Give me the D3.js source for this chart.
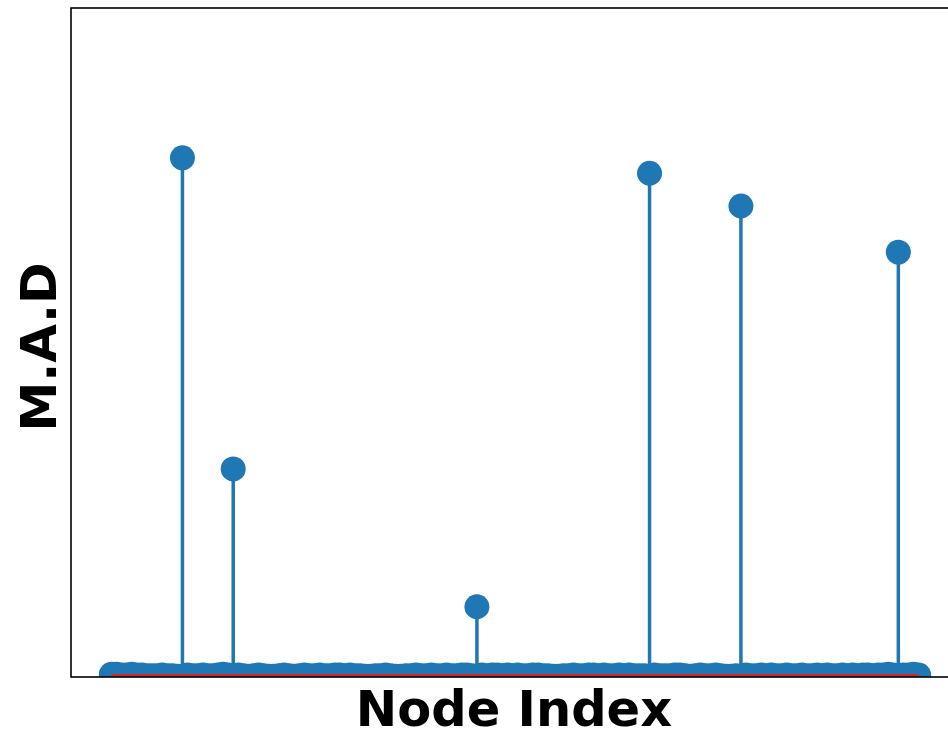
<!DOCTYPE html>
<html>
<head>
<meta charset="utf-8">
<script src="https://cdn.jsdelivr.net/npm/d3@7"></script>
<style>
  body { margin: 0; background: #fff; }
  text { font-family: "DejaVu Sans", sans-serif; font-weight: bold; }
</style>
</head>
<body>
<script>
/* global d3 */

// node count and the few nodes that stand out
const nodeCount = 160
const spikeIndex = [14, 24, 72, 106, 124, 155]
const spikeValue = [0.776, 0.311, 0.105, 0.753, 0.704, 0.635]

// the small M.A.D values of all the other nodes
const lowValues = [
  0.004, 0.004, 0.003, 0.003, 0.004, 0.003, 0.003, 0.002, 0.002, 0.002,
  0.003, 0.002, 0.002, 0.001, 0.002, 0.003, 0.002, 0.002, 0.003, 0.002,
  0.002, 0.003, 0.004, 0.003, 0.002, 0.003, 0.002, 0.001, 0.002, 0.003,
  0.002, 0.001, 0.001, 0.002, 0.003, 0.002, 0.001, 0.002, 0.003, 0.002,
  0.002, 0.003, 0.002, 0.002, 0.003, 0.003, 0.002, 0.003, 0.002, 0.002,
  0.001, 0.001, 0.002, 0.002, 0.003, 0.002, 0.001, 0.001, 0.002, 0.002,
  0.003, 0.002, 0.002, 0.003, 0.002, 0.002, 0.003, 0.002, 0.002, 0.003,
  0.003, 0.002, 0.002, 0.003, 0.002, 0.003, 0.003, 0.002, 0.003, 0.002,
  0.003, 0.002, 0.002, 0.003, 0.003, 0.002, 0.002, 0.001, 0.001, 0.002,
  0.002, 0.003, 0.002, 0.002, 0.003, 0.003, 0.002, 0.003, 0.002, 0.002,
  0.003, 0.002, 0.003, 0.002, 0.002, 0.002, 0.002, 0.003, 0.002, 0.002,
  0.002, 0.003, 0.003, 0.002, 0.001, 0.002, 0.003, 0.002, 0.002, 0.003,
  0.002, 0.001, 0.001, 0.002, 0.002, 0.003, 0.002, 0.002, 0.003, 0.002,
  0.003, 0.002, 0.002, 0.003, 0.002, 0.002, 0.003, 0.002, 0.002, 0.003,
  0.002, 0.003, 0.002, 0.002, 0.003, 0.002, 0.003, 0.002, 0.003, 0.003,
  0.002, 0.003, 0.003, 0.004, 0.003, 0.003, 0.003, 0.003, 0.004, 0.003
]

const data = lowValues.slice(0, nodeCount).map((v, i) => {
  const k = spikeIndex.indexOf(i)
  return { i, v: k >= 0 ? spikeValue[k] : v }
})

const w = 948, h = 731
const plotLeft = 71, plotTop = 8, plotRight = 959, plotBottom = 677
const blue = '#1f77b4'

const svg = d3.select('body').append('svg')
  .attr('width', w)
  .attr('height', h)

const pad = (nodeCount - 1) * 0.05
const x = d3.scaleLinear()
  .domain([-pad, nodeCount - 1 + pad])
  .range([plotLeft, plotRight])

const y = d3.scaleLinear()
  .domain([0, 1])
  .range([plotBottom, plotTop])

svg.append('clipPath').attr('id', 'plot')
  .append('rect')
  .attr('x', plotLeft).attr('y', plotTop)
  .attr('width', plotRight - plotLeft).attr('height', plotBottom - plotTop)

const g = svg.append('g').attr('clip-path', 'url(#plot)')

// stems
g.selectAll('line.stem').data(data)
  .enter().append('line')
    .attr('class', 'stem')
    .attr('x1', d => x(d.i)).attr('x2', d => x(d.i))
    .attr('y1', y(0)).attr('y2', d => y(d.v))
    .attr('stroke', blue)
    .attr('stroke-width', 3.5)

// markers
g.selectAll('circle').data(data)
  .enter().append('circle')
    .attr('cx', d => x(d.i))
    .attr('cy', d => y(d.v))
    .attr('r', 12.5)
    .attr('fill', blue)

// red baseline (lower half hidden under the spine, as in the original)
g.append('line')
  .attr('x1', x(0)).attr('x2', x(nodeCount - 1))
  .attr('y1', y(0) - 2).attr('y2', y(0) - 2)
  .attr('stroke', '#d62728')
  .attr('stroke-width', 2)

// frame, no ticks
svg.append('rect')
  .attr('x', plotLeft).attr('y', plotTop)
  .attr('width', plotRight - plotLeft).attr('height', plotBottom - plotTop)
  .attr('fill', 'none')
  .attr('stroke', '#000')
  .attr('stroke-width', 1.6)

svg.append('text')
  .attr('x', 514)
  .attr('y', 726)
  .attr('text-anchor', 'middle')
  .attr('font-size', 49.5)
  .text('Node Index')

svg.append('text')
  .attr('transform', 'translate(56, 347) rotate(-90)')
  .attr('text-anchor', 'middle')
  .attr('font-size', 50)
  .text('M.A.D')
</script>
</body>
</html>
